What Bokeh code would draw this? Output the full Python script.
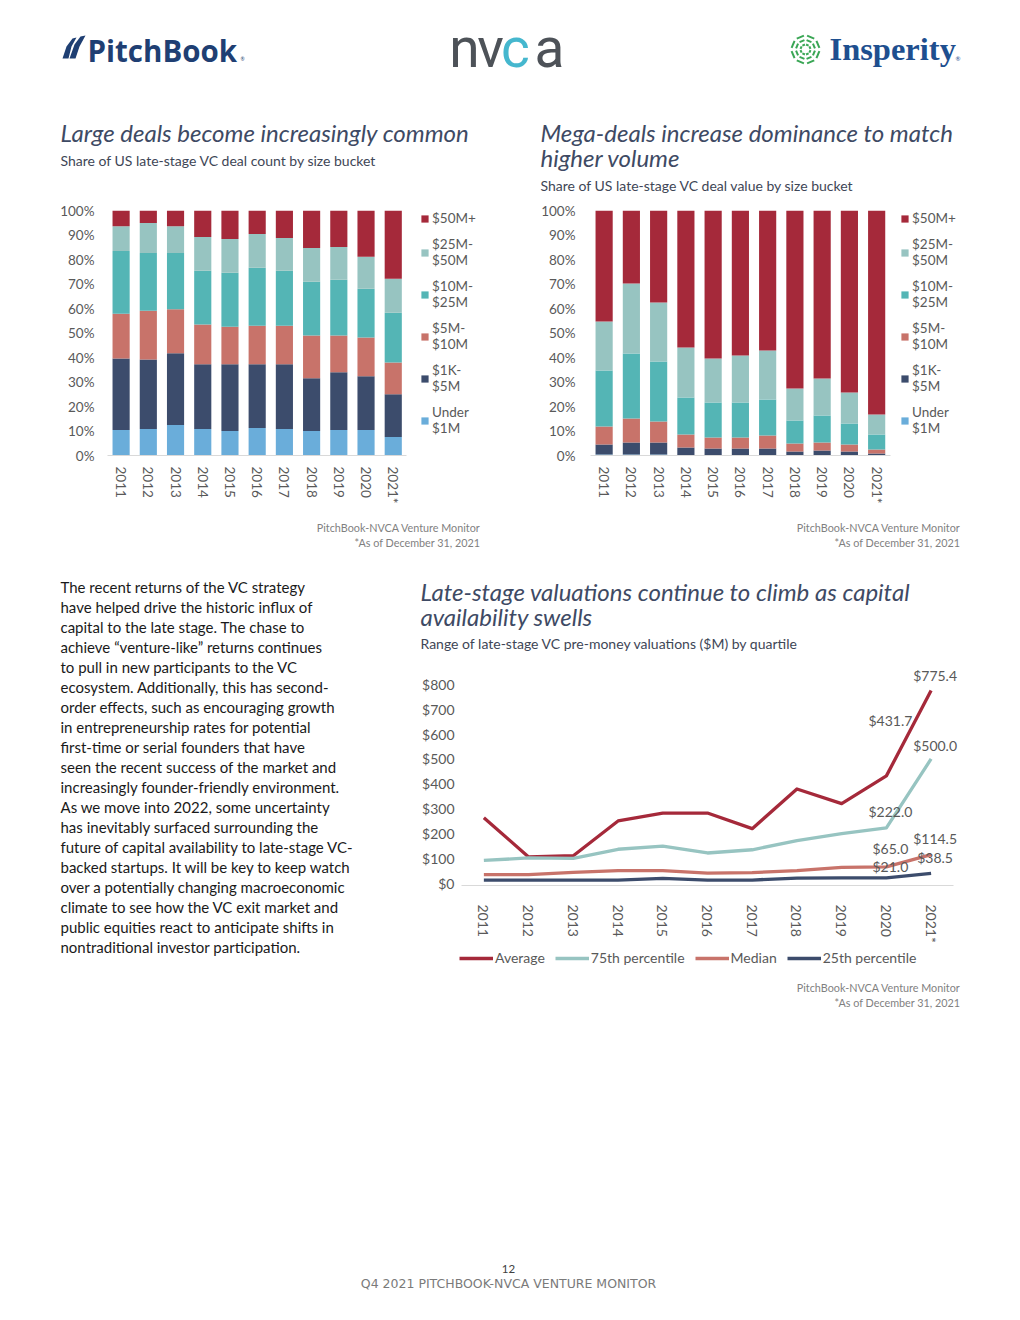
import math
from bokeh.plotting import figure
from bokeh.models import (Range1d, Legend, LegendItem, ColumnDataSource,
                          LabelSet, FixedTicker, PrintfTickFormatter)
from bokeh.layouts import column, row
from bokeh.embed import file_html
from bokeh.resources import INLINE
from bokeh.core.properties import value

# ---------------- data ----------------
years = ["2011", "2012", "2013", "2014", "2015", "2016", "2017", "2018", "2019", "2020", "2021*"]
bucket_keys = ["under1m", "k1_5m", "m5_10m", "m10_25m", "m25_50m", "m50plus"]
bucket_labels = ["Under\n$1M", "$1K-\n$5M", "$5M-\n$10M", "$10M-\n$25M", "$25M-\n$50M", "$50M+"]

# Share of deal count (%)
count_under1m = [10.4, 10.8, 12.4, 10.8, 10.0, 11.2, 10.8, 10.0, 10.4, 10.4, 7.6]
count_1k_5m = [29.2, 28.4, 29.3, 26.4, 27.2, 26.0, 26.4, 21.5, 23.6, 21.9, 17.4]
count_5m_10m = [18.3, 19.9, 18.0, 16.3, 15.4, 15.8, 15.8, 17.5, 15.0, 15.9, 13.0]
count_10m_25m = [25.6, 23.6, 23.0, 21.9, 22.0, 23.6, 22.4, 21.9, 22.7, 19.9, 20.3]
count_25m_50m = [10.1, 12.2, 10.9, 13.8, 13.8, 13.8, 13.4, 13.8, 13.4, 13.0, 13.8]
count_50m_plus = [6.4, 5.1, 6.4, 10.8, 11.6, 9.6, 11.2, 15.3, 14.9, 18.9, 27.9]

# Share of deal value (%)
value_under1m = [0.4, 0.4, 0.4, 0.1, 0.1, 0.1, 0.1, 0.1, 0.1, 0.1, 0.1]
value_1k_5m = [4.1, 4.9, 4.9, 3.2, 2.8, 2.8, 2.8, 1.5, 1.9, 1.5, 0.7]
value_5m_10m = [7.3, 9.8, 8.6, 5.3, 4.4, 4.4, 5.3, 3.3, 3.3, 2.9, 1.6]
value_10m_25m = [22.9, 26.5, 24.5, 15.1, 14.3, 14.3, 14.7, 9.4, 11.0, 8.6, 6.2]
value_25m_50m = [20.0, 28.6, 24.0, 20.4, 18.0, 19.2, 20.0, 13.0, 15.1, 12.6, 8.1]
value_50m_plus = [45.3, 29.8, 37.6, 55.9, 60.4, 59.2, 57.1, 72.7, 68.6, 74.3, 83.3]

# Pre-money valuations ($M)
val_average = [263, 105, 110, 250, 282, 282, 219, 379, 320, 431.7, 775.4]
val_p75 = [91, 101, 99, 136, 149, 121, 134, 171, 199, 222.0, 500.0]
val_median = [34, 34, 43, 50, 50, 40, 42, 50, 63, 65.0, 114.5]
val_p25 = [12, 12, 12, 12, 19, 12, 12, 20, 21, 21.0, 38.5]
line_names = ["Average", "75th percentile", "Median", "25th percentile"]

y_pct_ticks = [0, 10, 20, 30, 40, 50, 60, 70, 80, 90, 100]
y_usd_ticks = [0, 100, 200, 300, 400, 500, 600, 700, 800]

# ---------------- style ----------------
BAR_COLORS = ["#6AADDA", "#3C4C6C", "#C8736A", "#54B5B5", "#97C4C1", "#A5293A"]
LINE_COLORS = ["#A5293A", "#97C4C1", "#C8736A", "#3C4C6C"]
TICK_COLOR = "#595959"
TITLE_COLOR = "#3E4A64"
SUB_COLOR = "#3E4656"
FONT = "Lato"

xpos = list(range(len(years)))
year_overrides = {i: y for i, y in enumerate(years)}


def no_align(p):
    try:
        p.frame_align = False
    except Exception:
        pass


def canvas(w, h):
    p = figure(width=w, height=h, x_range=Range1d(0, w), y_range=Range1d(h, 0),
               toolbar_location=None, output_backend="svg", min_border=0)
    p.axis.visible = False
    p.grid.visible = False
    p.outline_line_color = None
    no_align(p)
    return p


def put_text(p, x, y, texts, size, color, style="normal", align="left", font=FONT,
             baseline="middle"):
    p.text(x=x, y=y, text=texts, text_font=value(font), text_font_size=size,
           text_font_style=style, text_color=color, text_align=align,
           text_baseline=baseline)


def style_axes(p, size, ystand, xstand):
    p.grid.grid_line_color = None
    p.outline_line_color = None
    p.yaxis.axis_line_color = None
    p.yaxis.major_label_standoff = ystand
    p.xaxis.axis_line_color = "#D9D9D9"
    p.xaxis.major_label_orientation = "vertical"
    p.xaxis.major_label_standoff = xstand
    p.xaxis.ticker = FixedTicker(ticks=xpos)
    p.xaxis.major_label_overrides = year_overrides
    p.xaxis.bounds = (-0.5, len(years) - 0.5)
    for ax in (p.xaxis, p.yaxis):
        ax.major_tick_line_color = None
        ax.minor_tick_line_color = None
        ax.major_label_text_font = FONT
        ax.major_label_text_font_size = size
        ax.major_label_text_color = TICK_COLOR


# ---------------- header ----------------
header = canvas(1012, 200)
# PitchBook mark
header.patches(xs=[[62, 66, 72, 76, 71, 68], [69, 74, 80, 85, 79, 75]],
               ys=[[58, 46, 38, 37, 46, 58], [58, 44, 36, 35, 46, 58]],
               fill_color="#1F3F73", line_color=None)
put_text(header, [87], [50], ["PitchBook"], "29.5px", "#1F3F73", style="bold",
         font="Open Sans")
put_text(header, [240], [58], ["\u00ae"], "5px", "#1F3F73")
# nvca mark
put_text(header, [464, 490, 549], [47.5, 47.5, 47.5], ["n", "v", "a"], "55px",
         "#4D5258", font="Roboto", align="center")
put_text(header, [515], [47.5], ["c"], "55px", "#45B7CE", font="Roboto", align="center")
# Insperity mark
cx, cy = 805, 49
xs, ys = [], []
for k in range(8):
    a0 = k * math.pi / 4 + math.pi / 8
    for r in (5, 9.5, 14):
        xs.append([cx + r * math.cos(a0 - 0.28), cx + r * math.cos(a0 + 0.28)])
        ys.append([cy + r * math.sin(a0 - 0.28), cy + r * math.sin(a0 + 0.28)])
header.multi_line(xs=xs, ys=ys, line_color="#3AA655", line_width=2)
put_text(header, [829], [48.5], ["Insperity"], "32.5px", "#1E4F8F", style="bold",
         font="Liberation Serif")
put_text(header, [955], [58], ["\u00ae"], "6px", "#1E4F8F")
# chart titles
put_text(header, [60], [132], ["Large deals become increasingly common"], "24px",
         TITLE_COLOR, style="italic")
put_text(header, [60], [160], ["Share of US late-stage VC deal count by size bucket"],
         "14px", SUB_COLOR)
put_text(header, [540, 540], [132, 157],
         ["Mega-deals increase dominance to match", "higher volume"], "24px",
         TITLE_COLOR, style="italic")
put_text(header, [540], [185], ["Share of US late-stage VC deal value by size bucket"],
         "14px", SUB_COLOR)


# ---------------- stacked bar charts ----------------
def bar_chart(series, width, x_end, min_left, min_top, frame_h, height, ystand):
    data = {"x": xpos}
    for k, s in zip(bucket_keys, series):
        data[k] = s
    src = ColumnDataSource(data)
    p = figure(x_range=Range1d(-0.5, x_end), y_range=Range1d(0, 100), width=width,
               height=height, toolbar_location=None, output_backend="svg",
               min_border_left=min_left, min_border_right=0,
               min_border_top=min_top, min_border_bottom=height - min_top - frame_h)
    rs = p.vbar_stack(bucket_keys, x="x", width=0.63, color=BAR_COLORS, source=src,
                      line_color=None)
    style_axes(p, "13.5px", ystand, 5)
    p.yaxis.ticker = FixedTicker(ticks=y_pct_ticks)
    p.yaxis.formatter = PrintfTickFormatter(format="%d%%")
    items = [LegendItem(label=lab, renderers=[r]) for lab, r in zip(bucket_labels, rs)]
    leg = Legend(items=items[::-1], location="top_right", margin=0, padding=0,
                 glyph_width=9, glyph_height=9, label_standoff=3, label_width=56,
                 spacing=10, border_line_color=None, background_fill_alpha=0,
                 label_text_font=FONT, label_text_font_size="13.5px",
                 label_text_line_height=1.1, label_text_color=TICK_COLOR)
    p.add_layout(leg)
    return p


left_fig = bar_chart([count_under1m, count_1k_5m, count_5m_10m, count_10m_25m,
                      count_25m_50m, count_50m_plus], 488, 13.5, 107, 9, 247, 315, 7)
right_fig = bar_chart([value_under1m, value_1k_5m, value_5m_10m, value_10m_25m,
                       value_25m_50m, value_50m_plus], 480, 13.37, 102, 10, 245, 315, 9)

# ---------------- sources band ----------------
mid = canvas(1012, 60)
for xr in (480, 960):
    put_text(mid, [xr, xr], [12, 27],
             ["PitchBook-NVCA Venture Monitor", "*As of December 31, 2021"], "10.8px",
             "#7F7F7F", align="right")

# ---------------- paragraph ----------------
para_lines = [
    "The recent returns of the VC strategy",
    "have helped drive the historic influx of",
    "capital to the late stage. The chase to",
    "achieve \u201cventure-like\u201d returns continues",
    "to pull in new participants to the VC",
    "ecosystem. Additionally, this has second-",
    "order effects, such as encouraging growth",
    "in entrepreneurship rates for potential",
    "first-time or serial founders that have",
    "seen the recent success of the market and",
    "increasingly founder-friendly environment.",
    "As we move into 2022, some uncertainty",
    "has inevitably surfaced surrounding the",
    "future of capital availability to late-stage VC-",
    "backed startups. It will be key to keep watch",
    "over a potentially changing macroeconomic",
    "climate to see how the VC exit market and",
    "public equities react to anticipate shifts in",
    "nontraditional investor participation.",
]
para = canvas(410, 435)
put_text(para, [60] * len(para_lines), [11 + 20 * i for i in range(len(para_lines))],
         para_lines, "15px", "#1A1A1A")

# ---------------- line chart ----------------
title3 = canvas(602, 85)
put_text(title3, [10, 10], [16, 41],
         ["Late-stage valuations continue to climb as capital", "availability swells"],
         "24px", TITLE_COLOR, style="italic")
put_text(title3, [10], [68],
         ["Range of late-stage VC pre-money valuations ($M) by quartile"], "14px",
         SUB_COLOR)

lsrc = ColumnDataSource(dict(x=xpos, average=val_average, p75=val_p75,
                             median=val_median, p25=val_p25))
lp = figure(x_range=Range1d(-0.5, 11.82), y_range=Range1d(-10, 896.6), width=602,
            height=285, toolbar_location=None, output_backend="svg",
            min_border_left=51, min_border_right=0, min_border_top=0,
            min_border_bottom=60)
no_align(lp)
for key, col in zip(["average", "p75", "median", "p25"], LINE_COLORS):
    lp.line(x="x", y=key, source=lsrc, line_color=col, line_width=3.3, line_join="round")
style_axes(lp, "14px", 1, 13)
lp.yaxis.ticker = FixedTicker(ticks=y_usd_ticks)
lp.yaxis.formatter = PrintfTickFormatter(format="$%d")

# data labels on the last two points of each series
lab_x, lab_val, lab_txt = [], [], []
for s in (val_average, val_p75, val_median, val_p25):
    for i in (len(years) - 2, len(years) - 1):
        lab_x.append(xpos[i])
        lab_val.append(s[i])
        lab_txt.append("${:.1f}".format(s[i]))
label_lift = [55, 15, 16, 13.5, 18, 16, 11, 16]
labsrc = ColumnDataSource(dict(x=lab_x, val=lab_val, txt=lab_txt, lift=label_lift))
lp.add_layout(LabelSet(x="x", y="val", text="txt", source=labsrc, x_offset=4,
                       y_offset="lift", text_align="center", text_baseline="middle",
                       text_font=value(FONT), text_font_size="14px",
                       text_color=TICK_COLOR))

# legend strip for the line chart (same series, drawn outside this strip's view)
legfig = figure(width=602, height=25, x_range=Range1d(0, 1), y_range=Range1d(-2, -1),
                toolbar_location=None, output_backend="svg", min_border_left=49,
                min_border_right=0, min_border_top=0, min_border_bottom=0)
no_align(legfig)
legfig.axis.visible = False
legfig.grid.visible = False
legfig.outline_line_color = None
leg_rs = [legfig.line(x="x", y=key, source=lsrc, line_color=c, line_width=3.3)
          for key, c in zip(["average", "p75", "median", "p25"], LINE_COLORS)]
lleg = Legend(items=[LegendItem(label=n, renderers=[r]) for n, r in zip(line_names, leg_rs)],
              orientation="horizontal", location="center_left", margin=0,
              padding=0, glyph_width=34, label_standoff=2, spacing=10,
              border_line_color=None, background_fill_alpha=0, label_text_font=FONT,
              label_text_font_size="14px", label_text_color=TICK_COLOR)
legfig.add_layout(lleg)

src3 = canvas(602, 40)
put_text(src3, [550, 550], [17, 32],
         ["PitchBook-NVCA Venture Monitor", "*As of December 31, 2021"], "10.8px",
         "#7F7F7F", align="right")

# ---------------- footer ----------------
footer = canvas(1012, 300)
put_text(footer, [508], [258], ["12"], "11.5px", "#404040", align="center")
put_text(footer, [508], [273], ["Q4 2021 PITCHBOOK-NVCA VENTURE MONITOR"], "12.5px",
         "#7A7A7A", align="center", font="DejaVu Sans")

layout = column(header, row(left_fig, right_fig), mid,
                row(para, column(title3, lp, legfig, src3)), footer)

open("out.html", "w").write(file_html(layout, INLINE))
